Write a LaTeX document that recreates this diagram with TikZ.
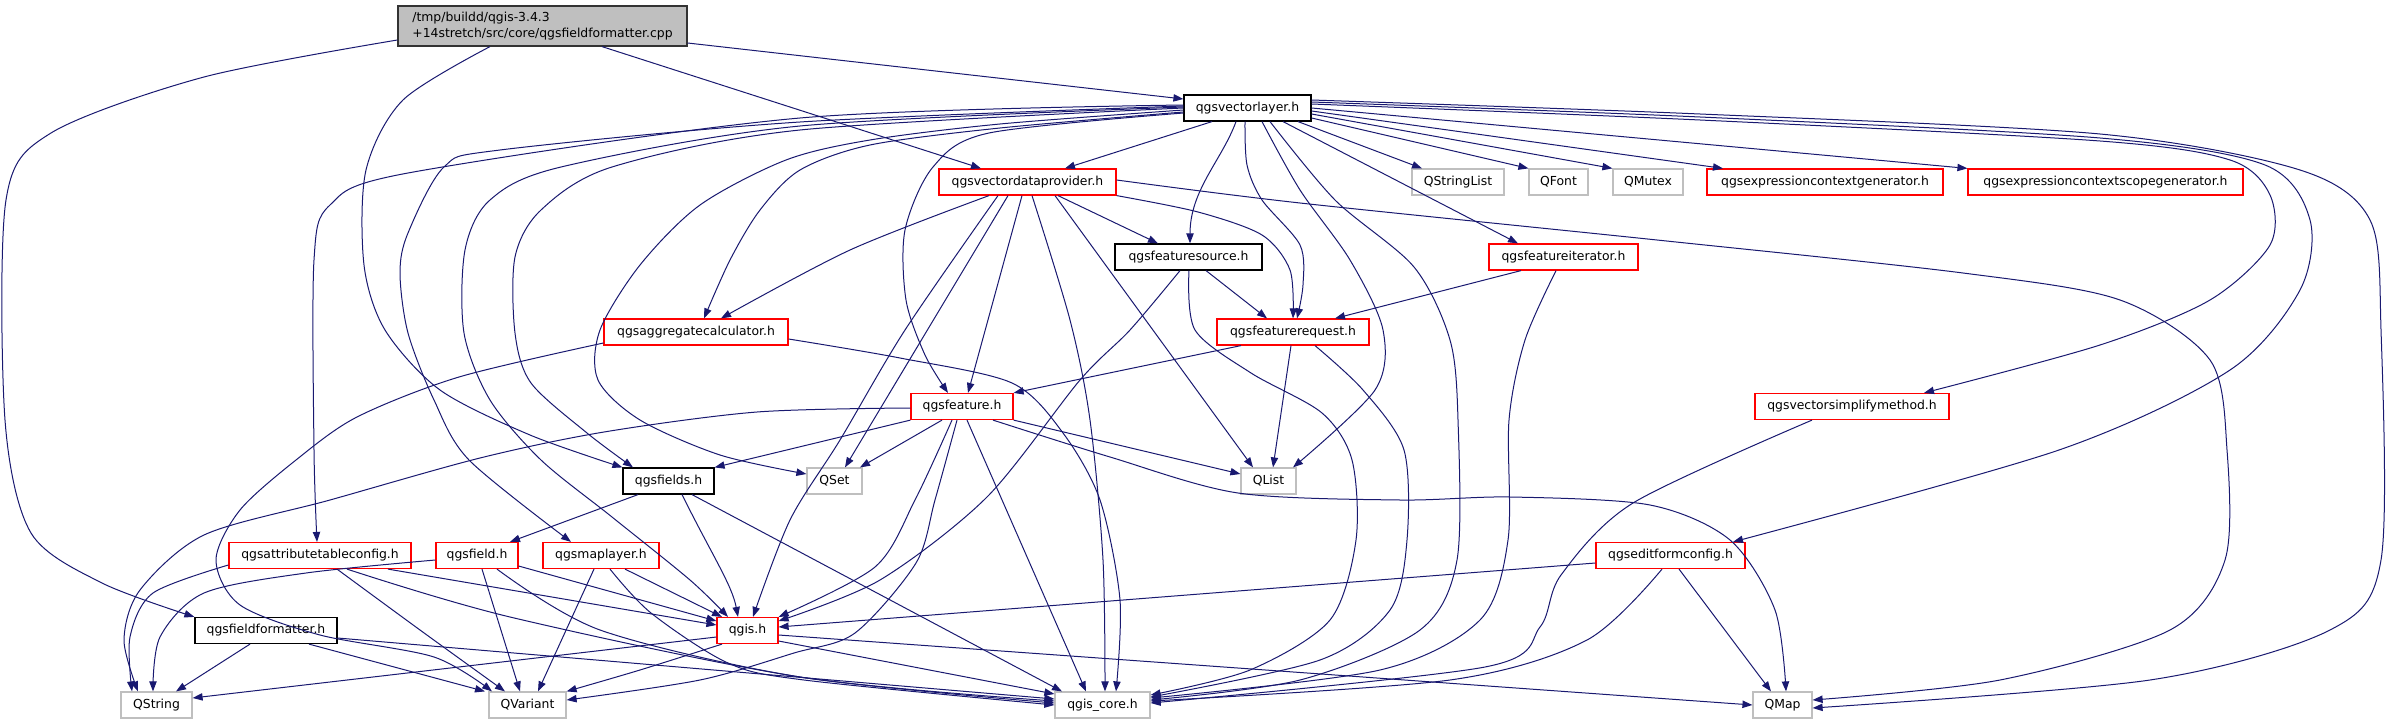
\documentclass[tikz,border=0pt]{standalone}
\usepackage{fontspec}
\setmainfont{DejaVu Sans}
\usetikzlibrary{arrows.meta}
\definecolor{edgec}{HTML}{191970}
\definecolor{redb}{HTML}{FF0000}
\definecolor{grayb}{HTML}{BFBFBF}
\definecolor{rootfill}{HTML}{BFBFBF}
\definecolor{darkb}{HTML}{333333}
\begin{document}
\begin{tikzpicture}[x=0.75pt,y=-0.75pt,
  font=\fontsize{9.3}{11.5}\selectfont,
  box/.style={draw, fill=white, inner sep=0pt, minimum height=19.5pt, line width=0.9pt},
  redbox/.style={box, draw=redb},
  blackbox/.style={box, draw=black},
  graybox/.style={box, draw=grayb},
  rootbox/.style={draw=darkb, fill=rootfill, inner sep=0pt, minimum height=30pt, line width=0.9pt, align=left},
  e/.style={draw=edgec, line width=0.75pt, -{Triangle[length=7.5pt,width=5.5pt]}}]
\useasboundingbox (0,0) rectangle (2387,724);
% nodes
\node[rootbox, minimum width=216.75pt] (root) at (542.5,26) {/tmp/buildd/qgis-3.4.3\\+14stretch/src/core/qgsfieldformatter.cpp};
\node[blackbox, minimum width=95.25pt] (vl) at (1247.5,108) {qgsvectorlayer.h};
\node[redbox, minimum width=132.75pt] (vdp) at (1027.5,182) {qgsvectordataprovider.h};
\node[blackbox, minimum width=110.25pt] (fsrc) at (1188.5,257) {qgsfeaturesource.h};
\node[graybox, minimum width=69pt] (qsl) at (1458,182) {QStringList};
\node[graybox, minimum width=44.25pt] (qfont) at (1558.5,182) {QFont};
\node[graybox, minimum width=52.5pt] (qmutex) at (1648,182) {QMutex};
\node[redbox, minimum width=177pt] (ecg) at (1825,182) {qgsexpressioncontextgenerator.h};
\node[redbox, minimum width=206.25pt] (ecsg) at (2105.5,182) {qgsexpressioncontextscopegenerator.h};
\node[redbox, minimum width=111.75pt] (fiter) at (1563.5,257) {qgsfeatureiterator.h};
\node[redbox, minimum width=114pt] (freq) at (1293,332) {qgsfeaturerequest.h};
\node[redbox, minimum width=145.5pt] (vsm) at (1852,406.5) {qgsvectorsimplifymethod.h};
\node[graybox, minimum width=41.25pt] (qlist) at (1268.5,481) {QList};
\node[redbox, minimum width=138pt] (aggc) at (696,332) {qgsaggregatecalculator.h};
\node[redbox, minimum width=76.5pt] (feat) at (962,406.5) {qgsfeature.h};
\node[blackbox, minimum width=68.25pt] (fields) at (668.5,481) {qgsfields.h};
\node[graybox, minimum width=41.25pt] (qset) at (834.5,481) {QSet};
\node[redbox, minimum width=136.5pt] (atc) at (320,555.5) {qgsattributetableconfig.h};
\node[redbox, minimum width=61.5pt] (field) at (477,555.5) {qgsfield.h};
\node[redbox, minimum width=87pt] (mlayer) at (601,555.5) {qgsmaplayer.h};
\node[redbox, minimum width=45.75pt] (qgis) at (747.5,630.5) {qgis.h};
\node[blackbox, minimum width=106.5pt] (ffh) at (266,630.5) {qgsfieldformatter.h};
\node[graybox, minimum width=53.25pt] (qstring) at (156.5,705) {QString};
\node[graybox, minimum width=57.75pt] (qvariant) at (527.5,705) {QVariant};
\node[graybox, minimum width=71.25pt] (core) at (1102.5,705) {qgis\_core.h};
\node[redbox, minimum width=111.75pt] (efc) at (1670.5,555.5) {qgseditformconfig.h};
\node[graybox, minimum width=44.25pt] (qmap) at (1782.5,705) {QMap};
% root edges
\draw[e] (root.east |- 0,43) -- (vl.west |- 0,99);
\draw[e] (root.south -| 602,0) -- (vdp.north -| 981,0);
\draw[e] plot[smooth] coordinates {(root.south -| 490,0) (403,100) (366,170) (364,265) (385,330) (440,390) (530,435) (fields.north west)};
\draw[e] plot[smooth] coordinates {(root.west |- 0,40) (204,77) (51,133) (6,200) (5,420) (31,533) (102,583) (ffh.north west)};
% vl edges
\draw[e] (vl.south -| 1212,0) -- (vdp.north -| 1065,0);
\draw[e] (vl.south -| 1236,0) .. controls (1222,160) and (1190,190) .. (fsrc.north -| 1190,0);
\draw[e] plot[smooth] coordinates {(vl.south -| 1245,0) (1247,165) (1262,200) (1300,245) (1303,285) (freq.north -| 1297,0)};
\draw[e] plot[smooth] coordinates {(vl.south -| 1262,0) (1300,190) (1350,260) (1383,330) (1375,390) (qlist.north -| 1293,0)};
\draw[e] plot[smooth] coordinates {(vl.south -| 1270,0) (1335,200) (1414,267) (1450,340) (1458,420) (1457,560) (1420,630) (1300,680) (core.east |- 0,700)};
\draw[e] (vl.south -| 1283,0) -- (fiter.north -| 1518,0);
\draw[e] (vl.south -| 1298,0) -- (qsl.north -| 1422,0);
\draw[e] (vl.east |- 0,118) -- (qfont.north west);
\draw[e] (vl.east |- 0,114) -- (qmutex.north west);
\draw[e] (vl.east |- 0,111) -- (ecg.north -| 1723,0);
\draw[e] (vl.east |- 0,108) -- (ecsg.north west);
\draw[e] plot[smooth] coordinates {(vl.east |- 0,104) (1700,120) (2100,141) (2230,160) (2270,195) (2270,245) (2210,300) (2100,345) (vsm.north -| 1924,0)};
\draw[e] plot[smooth] coordinates {(vl.east |- 0,102) (1700,117) (2100,138) (2265,165) (2310,220) (2300,290) (2230,370) (2059,450) (efc.north -| 1733,0)};
\draw[e] plot[smooth] coordinates {(vl.east |- 0,100) (1700,114) (2100,134) (2300,170) (2370,220) (2381,330) (2381,560) (2330,630) (2150,680) (qmap.east |- 0,708)};
\draw[e] plot[smooth] coordinates {(vl.west |- 0,105) (800,118) (408,173) (330,205) (314,260) (314,450) (atc.north -| 317,0)};
\draw[e] plot[smooth] coordinates {(vl.west |- 0,106) (800,122) (500,150) (444,167) (408,233) (400,273) (408,333) (434,400) (469,460) (mlayer.north -| 571,0)};
\draw[e] plot[smooth] coordinates {(vl.west |- 0,107) (800,126) (561,167) (490,200) (465,250) (464,333) (490,400) (541,460) (612,517) (690,580) (qgis.north -| 728,0)};
\draw[e] plot[smooth] coordinates {(vl.west |- 0,108) (800,130) (612,167) (541,210) (515,257) (515,333) (531,383) (587,433) (fields.north -| 633,0)};
\draw[e] plot[smooth] coordinates {(vl.west |- 0,110) (1000,124) (870,140) (786,160) (700,205) (640,265) (600,330) (598,380) (640,420) (720,455) (qset.west |- 0,474)};
\draw[e] plot[smooth] coordinates {(vl.west |- 0,112) (1000,128) (870,145) (800,170) (760,210) (730,260) (aggc.north -| 704,0)};
\draw[e] plot[smooth] coordinates {(vl.west |- 0,113) (989,133) (933,167) (905,230) (906,300) (925,355) (feat.north -| 948,0)};
% vdp edges
\draw[e] (vdp.south -| 1058,0) -- (fsrc.north -| 1158,0);
\draw[e] plot[smooth] coordinates {(vdp.south east) (1198,212) (1262,235) (1290,270) (freq.north -| 1293,0)};
\draw[e] plot[smooth] coordinates {(vdp.south -| 989,0) (850,250) (aggc.north -| 721,0)};
\draw[e] (vdp.south -| 1022,0) -- (feat.north -| 968,0);
\draw[e] (vdp.south -| 1008,0) -- (qset.north -| 845,0);
\draw[e] plot[smooth] coordinates {(vdp.south -| 998,0) (905,330) (840,440) (790,520) (qgis.north -| 753,0)};
\draw[e] (vdp.south -| 1055,0) -- (qlist.north -| 1253,0);
\draw[e] plot[smooth] coordinates {(vdp.south -| 1032,0) (1070,320) (1090,420) (1103,560) (core.north -| 1105,0)};
\draw[e] plot[smooth] coordinates {(vdp.east |- 0,180) (1300,203) (1657,240) (1963,273) (2120,300) (2210,360) (2227,450) (2225,560) (2170,630) (2000,680) (qmap.east |- 0,700)};
% fsrc edges
\draw[e] (fsrc.south -| 1206,0) -- (freq.north -| 1267,0);
\draw[e] plot[smooth] coordinates {(fsrc.south -| 1180,0) (1130,330) (1080,380) (987,497) (880,580) (qgis.east |- 0,621)};
\draw[e] plot[smooth] coordinates {(fsrc.south -| 1189,0) (1195,330) (1251,373) (1322,413) (1352,460) (1356,540) (1330,620) (1250,670) (core.east |- 0,695)};
% fiter edges
\draw[e] (fiter.south -| 1521,0) -- (freq.north -| 1335,0);
\draw[e] plot[smooth] coordinates {(fiter.south -| 1556,0) (1525,340) (1509,420) (1508,540) (1480,620) (1380,670) (core.east |- 0,698)};
% freq edges
\draw[e] (freq.south -| 1241,0) -- (feat.north east);
\draw[e] (freq.south -| 1291,0) -- (qlist.north -| 1273,0);
\draw[e] plot[smooth] coordinates {(freq.south -| 1315,0) (1363,390) (1404,450) (1407,540) (1390,610) (1320,660) (core.east |- 0,697)};
% aggc edges
\draw[e] plot[smooth] coordinates {(aggc.west |- 0,343) (459,377) (357,417) (296,460) (240,510) (216,560) (240,605) (320,635) (434,657) (qvariant.north -| 492,0)};
\draw[e] plot[smooth] coordinates {(aggc.east |- 0,339) (900,358) (1012,383) (1063,433) (1100,500) (1120,600) (core.north -| 1116,0)};
% feat edges
\draw[e] (feat.south west) -- (fields.north east);
\draw[e] (feat.south -| 942,0) -- (qset.north -| 860,0);
\draw[e] (feat.south east) -- (qlist.west |- 0,474);
\draw[e] plot[smooth] coordinates {(feat.south -| 993,0) (1110,457) (1238,493) (1400,500) (1510,497) (1650,505) (1730,540) (1775,610) (qmap.north -| 1786,0)};
\draw[e] plot[smooth] coordinates {(feat.south -| 952,0) (915,500) (875,567) (qgis.north east)};
\draw[e] plot[smooth] coordinates {(feat.south -| 957,0) (935,500) (916,563) (855,633) (794,653) (700,680) (qvariant.east |- 0,700)};
\draw[e] (feat.south -| 967,0) -- (core.north -| 1086,0);
\draw[e] plot[smooth] coordinates {(feat.west |- 0,408) (757,412) (604,432) (480,458) (330,500) (204,535) (140,590) (124,640) (qstring.north -| 138,0)};
% fields edges
\draw[e] (fields.south -| 638,0) -- (field.north -| 510,0);
\draw[e] (fields.south -| 682,0) .. controls (712,555) and (732,585) .. (qgis.north -| 738,0);
\draw[e] (fields.south -| 692,0) -- (core.north -| 1062,0);
% field edges
\draw[e] plot[smooth] coordinates {(field.west |- 0,560) (306,573) (204,593) (160,637) (qstring.north -| 153,0)};
\draw[e] (field.south -| 482,0) -- (qvariant.north -| 520,0);
\draw[e] (field.east |- 0,566) -- (qgis.west |- 0,621);
\draw[e] plot[smooth] coordinates {(field.south -| 497,0) (600,630) (800,677) (core.west |- 0,703)};
% maplayer edges
\draw[e] (mlayer.south -| 594,0) -- (qvariant.north -| 538,0);
\draw[e] (mlayer.south -| 625,0) -- (qgis.north -| 722,0);
\draw[e] plot[smooth] coordinates {(mlayer.south -| 610,0) (651,613) (728,663) (804,680) (core.west |- 0,705)};
% attributetableconfig edges
\draw[e] plot[smooth] coordinates {(atc.west |- 0,565) (153,593) (130,637) (qstring.north -| 132,0)};
\draw[e] plot[smooth] coordinates {(atc.south -| 337,0) (420,630) (qvariant.north -| 505,0)};
\draw[e] (atc.south -| 388,0) -- (qgis.west |- 0,625);
\draw[e] plot[smooth] coordinates {(atc.south -| 347,0) (510,617) (800,677) (core.west |- 0,701)};
% fieldformatter edges
\draw[e] (ffh.south -| 250,0) -- (qstring.north -| 176,0);
\draw[e] (ffh.south -| 309,0) -- (qvariant.north -| 485,0);
\draw[e] (ffh.east |- 0,638) -- (core.west |- 0,699);
% qgis edges
\draw[e] (qgis.west |- 0,637) -- (qstring.east |- 0,698);
\draw[e] plot[smooth] coordinates {(qgis.south -| 722,0) (640,670) (qvariant.north east)};
\draw[e] (qgis.east |- 0,641) -- (core.west |- 0,694);
\draw[e] (qgis.east |- 0,635) -- (qmap.west |- 0,705);
% editformconfig edges
\draw[e] (efc.west |- 0,563) -- (qgis.east |- 0,627);
\draw[e] plot[smooth] coordinates {(efc.south -| 1662,0) (1587,640) (1450,680) (core.east |- 0,701)};
\draw[e] (efc.south -| 1679,0) -- (qmap.north -| 1771,0);
% simplify method
\draw[e] plot[smooth] coordinates {(vsm.south -| 1812,0) (1633,503) (1561,575) (1540,627) (1485,667) (core.east |- 0,703)};
\end{tikzpicture}
\end{document}
